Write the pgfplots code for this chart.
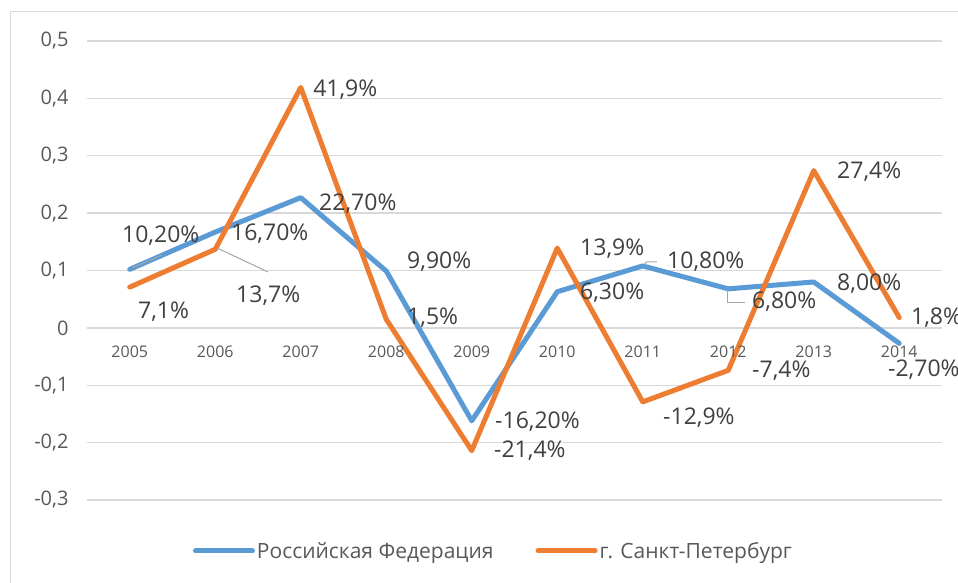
\documentclass[border=0pt]{standalone}
\usepackage{pgfplots}
\pgfplotsset{compat=1.18}
\usepackage{pgfplotstable}
\usepackage{fontspec}
\setmainfont{Open Sans}

\definecolor{rfblue}{HTML}{5B9BD5}
\definecolor{spborange}{HTML}{ED7D31}
\definecolor{gridgray}{HTML}{D9D9D9}
\definecolor{txtgray}{HTML}{595959}
\definecolor{lblgray}{HTML}{404040}
\definecolor{leadgray}{HTML}{A6A6A6}

% growth rates, 2005..2014 (index 0..9)
\pgfplotstableread{
idx rf spb
0 0.102 0.071
1 0.167 0.137
2 0.227 0.419
3 0.099 0.015
4 -0.162 -0.214
5 0.063 0.139
6 0.108 -0.129
7 0.068 -0.074
8 0.080 0.274
9 -0.027 0.018
}\growth

\begin{document}
\begin{tikzpicture}
\useasboundingbox (0,0) rectangle (958pt,583pt);
\clip (0,0) rectangle (958pt,583pt);
\fill[white] (0,0) rectangle (958pt,583pt);
\draw[gridgray, line width=1pt] (10pt,0) -- (10pt,571pt) -- (958pt,571pt);

\begin{axis}[
  at={(87pt,83pt)}, anchor=south west,
  scale only axis, width=855pt, height=459pt,
  xmin=-0.5, xmax=9.5, ymin=-0.3, ymax=0.5,
  clip=false,
  xtick=\empty,
  ytick={-0.3,-0.2,-0.1,0,0.1,0.2,0.3,0.4,0.5},
  ymajorgrids,
  grid style={gridgray, line width=1.3pt},
  axis line style={draw=none},
  major tick length=0pt,
  /pgf/number format/fixed,
  /pgf/number format/use comma,
  /pgf/number format/precision=1,
  /pgf/number format/assume math mode=true,
  yticklabel style={font=\fontsize{20}{24}\selectfont, text=txtgray, xshift=-15pt},
  legend style={at={(0.4754,-0.111)}, anchor=center, draw=none, fill=none,
    legend columns=2, font=\fontsize{21}{24}\selectfont, text=txtgray,
    /tikz/every even column/.append style={column sep=40pt}},
  legend image code/.code={\draw[#1] (0pt,0pt) -- (57pt,0pt);},
]
\addplot[rfblue, line width=5pt, line cap=round, line join=round] table[x=idx, y=rf]{\growth};
\addlegendentry{Российская Федерация}
\addplot[spborange, line width=5pt, line cap=round, line join=round] table[x=idx, y=spb]{\growth};
\addlegendentry{г. Санкт-Петербург}

% year labels on the zero line
\pgfplotsinvokeforeach{0,...,9}{
  \node[font=\fontsize{16}{18}\selectfont, text=txtgray, yshift=-24pt] at (axis cs:#1,0) {\the\numexpr2005+#1\relax};
}

% leader lines
\draw[leadgray, line width=1pt] (axis cs:0.026,0.1044) -- (axis cs:0.377,0.127);
\draw[leadgray, line width=1pt] (axis cs:1.020,0.1393) -- (axis cs:1.617,0.0974);
\draw[leadgray, line width=1pt] (axis cs:6.025,0.1100) -- (axis cs:6.040,0.1149) -- (axis cs:6.165,0.1149);
\draw[leadgray, line width=1pt] (axis cs:6.997,0.066) -- (axis cs:6.997,0.0434) -- (axis cs:7.196,0.0434);

% data labels
\begin{scope}[every node/.style={anchor=west, inner sep=0pt, text=lblgray, font=\fontsize{23}{26}\selectfont}]
\node at (axis cs:-0.091,0.1600) {10,20\%};
\node at (axis cs:1.184,0.1635) {16,70\%};
\node at (axis cs:2.214,0.2158) {22,70\%};
\node at (axis cs:3.243,0.1148) {9,90\%};
\node at (axis cs:4.272,-0.164) {-16,20\%};
\node at (axis cs:5.266,0.0608) {6,30\%};
\node at (axis cs:6.284,0.1148) {10,80\%};
\node at (axis cs:7.278,0.0451) {6,80\%};
\node at (axis cs:8.272,0.0765) {8,00\%};
\node at (axis cs:8.868,-0.0734) {-2,70\%};
\node at (axis cs:0.0965,0.0277) {7,1\%};
\node at (axis cs:1.243,0.0556) {13,7\%};
\node at (axis cs:2.144,0.4146) {41,9\%};
\node at (axis cs:3.243,0.0173) {1,5\%};
\node at (axis cs:4.260,-0.2145) {-21,4\%};
\node at (axis cs:5.266,0.1375) {13,9\%};
\node at (axis cs:6.237,-0.1570) {-12,9\%};
\node at (axis cs:7.278,-0.0751) {-7,4\%};
\node at (axis cs:8.272,0.2716) {27,4\%};
\node at (axis cs:9.137,0.0173) {1,8\%};
\end{scope}
\end{axis}
\end{tikzpicture}
\end{document}
